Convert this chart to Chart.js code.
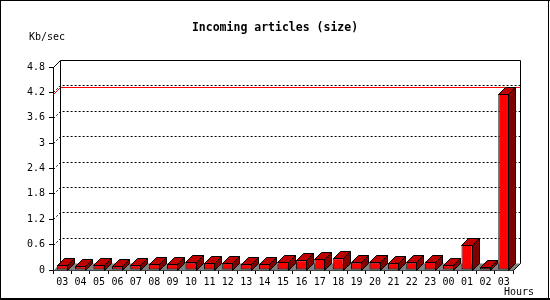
<!DOCTYPE html>
<html>
<head>
<meta charset="utf-8">
<script src="https://cdn.jsdelivr.net/npm/chart.js@4/dist/chart.umd.min.js"></script>
<style>
  body { margin: 0; background: #fff; }
</style>
</head>
<body>
<canvas id="articlesChart" width="550" height="300"></canvas>
<script>
// hourly incoming article size, Kb/sec
var hours = ['03', '04', '05', '06', '07', '08', '09', '10', '11', '12', '13', '14', '15',
             '16', '17', '18', '19', '20', '21', '22', '23', '00', '01', '02', '03'];
var sizes = [0.11, 0.09, 0.11, 0.09, 0.11, 0.135, 0.135, 0.18, 0.16, 0.16, 0.135, 0.135, 0.2,
             0.23, 0.26, 0.28, 0.18, 0.18, 0.16, 0.18, 0.2, 0.11, 0.6, 0.065, 4.16];
var yTicks = [0, 0.6, 1.2, 1.8, 2.4, 3, 3.6, 4.2, 4.8];

var depth = 7;
var monoFont = '"DejaVu Sans Mono", monospace';

function px(v) { return Math.round(v) + 0.5; }

var threeD = {
    id: 'threeD',
    beforeDatasetsDraw: function(chart) {
        var ctx = chart.ctx;
        var a = chart.chartArea;
        var yScale = chart.scales.y;
        var L = px(a.left), R = px(a.right), T = px(a.top), B = px(a.bottom);
        ctx.save();
        ctx.lineWidth = 1;

        // floor
        ctx.fillStyle = '#808080';
        ctx.beginPath();
        ctx.moveTo(L, B);
        ctx.lineTo(L + depth, B - depth);
        ctx.lineTo(R + depth, B - depth);
        ctx.lineTo(R, B);
        ctx.closePath();
        ctx.fill();

        // dotted grid on the back wall
        ctx.strokeStyle = '#000';
        ctx.setLineDash([2, 2]);
        for (var i = 1; i < yTicks.length - 1; i++) {
            var yy = px(yScale.getPixelForValue(yTicks[i]));
            ctx.beginPath();
            ctx.moveTo(L, yy);
            ctx.lineTo(L + depth, yy - depth);
            ctx.lineTo(R + depth, yy - depth);
            ctx.stroke();
        }
        ctx.setLineDash([]);

        // max line
        var maxY = px(yScale.getPixelForValue(Math.max.apply(null, sizes)));
        ctx.strokeStyle = '#ff0000';
        ctx.beginPath();
        ctx.moveTo(L, maxY);
        ctx.lineTo(L + depth, maxY - depth);
        ctx.lineTo(R + depth, maxY - depth);
        ctx.stroke();

        // back wall outline
        ctx.strokeStyle = '#000';
        ctx.beginPath();
        ctx.moveTo(L, T);
        ctx.lineTo(L + depth, T - depth);
        ctx.lineTo(R + depth, T - depth);
        ctx.lineTo(R + depth, B - depth);
        ctx.lineTo(R, B);
        ctx.moveTo(L + depth, T - depth);
        ctx.lineTo(L + depth, B - depth);
        ctx.stroke();
        ctx.restore();
    },
    afterDatasetsDraw: function(chart) {
        var ctx = chart.ctx;
        var meta = chart.getDatasetMeta(0);
        ctx.save();
        ctx.lineWidth = 1;
        ctx.strokeStyle = '#000';
        meta.data.forEach(function(bar) {
            var x0 = px(bar.x - bar.width / 2);
            var x1 = px(bar.x + bar.width / 2) - 1;
            var top = px(bar.y);
            var base = px(bar.base);
            // top face
            ctx.fillStyle = '#c00000';
            ctx.beginPath();
            ctx.moveTo(x0, top);
            ctx.lineTo(x0 + depth, top - depth);
            ctx.lineTo(x1 + depth, top - depth);
            ctx.lineTo(x1, top);
            ctx.closePath();
            ctx.fill();
            ctx.stroke();
            // side face
            ctx.fillStyle = '#800000';
            ctx.beginPath();
            ctx.moveTo(x1, top);
            ctx.lineTo(x1 + depth, top - depth);
            ctx.lineTo(x1 + depth, base - depth);
            ctx.lineTo(x1, base);
            ctx.closePath();
            ctx.fill();
            ctx.stroke();
        });
        ctx.restore();
    },
    afterDraw: function(chart) {
        var ctx = chart.ctx;
        ctx.save();
        ctx.fillStyle = '#000';
        ctx.font = '10px ' + monoFont;
        ctx.textBaseline = 'middle';
        ctx.textAlign = 'left';
        ctx.fillText('Kb/sec', 29, 37);
        ctx.fillText('Hours', 504, 292);
        // image frame
        ctx.fillRect(0, 0, 550, 1);
        ctx.fillRect(0, 0, 1, 300);
        ctx.fillRect(548, 0, 1, 300);
        ctx.fillRect(0, 298, 550, 2);
        ctx.restore();
    }
};

var ctx = document.getElementById('articlesChart').getContext('2d');
var articlesChart = new Chart(ctx, {
    type: 'bar',
    data: {
        labels: hours,
        datasets: [{
            label: 'Incoming articles (size)',
            data: sizes,
            backgroundColor: '#ff0000',
            borderColor: '#000',
            borderWidth: 1,
            borderSkipped: false,
            barPercentage: 0.6,
            categoryPercentage: 1
        }]
    },
    options: {
        responsive: false,
        animation: false,
        layout: {
            padding: 0
        },
        plugins: {
            legend: { display: false },
            tooltip: { enabled: false },
            title: {
                display: true,
                text: 'Incoming articles (size)',
                color: '#000',
                font: { family: monoFont, size: 11.5, weight: 'bold' },
                padding: { top: 21, bottom: 32.2 }
            }
        },
        scales: {
            x: {
                afterFit: function(scale) { scale.height = 30; },
                grid: { drawOnChartArea: false, color: '#000', tickLength: 4 },
                border: { color: '#000', width: 1 },
                ticks: {
                    color: '#000',
                    font: { family: monoFont, size: 10 },
                    padding: 2,
                    maxRotation: 0,
                    autoSkip: false
                }
            },
            y: {
                min: 0,
                max: 4.8,
                afterFit: function(scale) { scale.width = 53; },
                afterBuildTicks: function(scale) {
                    scale.ticks = yTicks.map(function(v) { return { value: v }; });
                },
                grid: { drawOnChartArea: false, color: '#000', tickLength: 4 },
                border: { color: '#000', width: 1 },
                ticks: {
                    color: '#000',
                    font: { family: monoFont, size: 10 },
                    padding: 4,
                    callback: function(v) { return String(v); }
                }
            },
            // empty right-hand strip so the title stays centred on the whole image
            yRight: {
                position: 'right',
                min: 0,
                max: 4.8,
                afterFit: function(scale) { scale.width = 37; },
                grid: { display: false, drawTicks: false },
                border: { display: false },
                ticks: { display: false }
            }
        }
    },
    plugins: [threeD]
});
</script>
</body>
</html>
